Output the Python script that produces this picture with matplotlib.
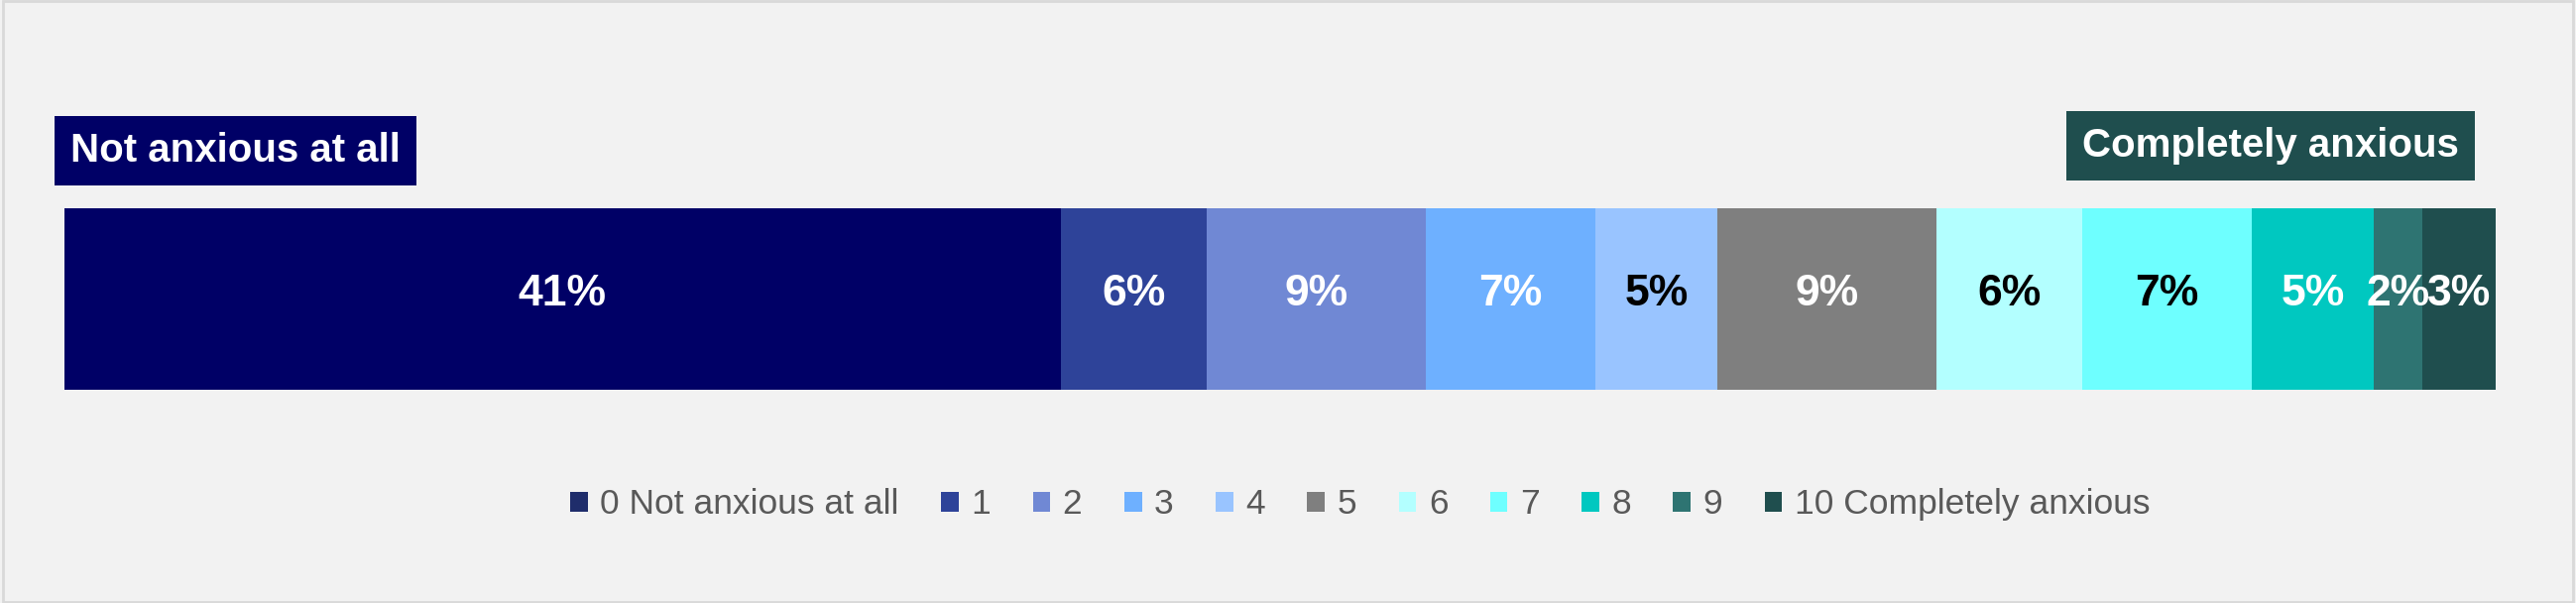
import matplotlib.pyplot as plt
from matplotlib.patches import Patch

plt.rcParams['font.family'] = ['Liberation Sans', 'DejaVu Sans']

categories = ['0 Not anxious at all', '1', '2', '3', '4', '5', '6', '7', '8', '9',
              '10 Completely anxious']
values = [41, 6, 9, 7, 5, 9, 6, 7, 5, 2, 3]
colors = ['#000066', '#2e4399', '#7088d4', '#6eb0ff', '#99c4ff', '#7f7f7f',
          '#b3ffff', '#6effff', '#00c8c0', '#2e7472', '#1f4e4e']
text_colors = ['white', 'white', 'white', 'white', 'black', 'white',
               'black', 'black', 'white', 'white', 'white']

fig = plt.figure(figsize=(25.98, 6.08), dpi=100, facecolor='#f2f2f2')
ax = fig.add_axes([0.0249, 0.354, 0.9438, 0.300])
ax.set_facecolor('#f2f2f2')

left = 0
for v, c, tc in zip(values, colors, text_colors):
    ax.barh(0, v, left=left, height=1, color=c, edgecolor='none')
    ax.text(left + v / 2, 0.03, f'{v}%', ha='center', va='center',
            fontsize=32, fontweight='bold', color=tc)
    left += v
ax.set_xlim(0, sum(values))
ax.set_ylim(-0.5, 0.5)
ax.axis('off')

fig.text(0.0275, 0.750, 'Not anxious at all', fontsize=29, fontweight='bold',
         color='white', va='center', ha='left',
         bbox=dict(boxstyle='square,pad=0.4', fc='#000066', ec='none'))
fig.text(0.9545, 0.758, 'Completely anxious', fontsize=29, fontweight='bold',
         color='white', va='center', ha='right',
         bbox=dict(boxstyle='square,pad=0.4', fc='#1f4e4e', ec='none'))

handles = [Patch(facecolor=c if i else '#1f2d6b', edgecolor='none') for i, c in enumerate(colors)]
fig.legend(handles, categories, loc='center', bbox_to_anchor=(0.528, 0.163),
           ncol=len(categories), frameon=False, fontsize=25.5, handlelength=0.5,
           handleheight=0.5, handletextpad=0.35, columnspacing=1.2,
           labelcolor='#595959')

fig.patches.append(plt.Rectangle((0.001, 0.002), 0.998, 0.996, transform=fig.transFigure,
                                 fill=False, ec='#d9d9d9', lw=2))
fig.savefig('out.png', dpi=100, facecolor=fig.get_facecolor())
